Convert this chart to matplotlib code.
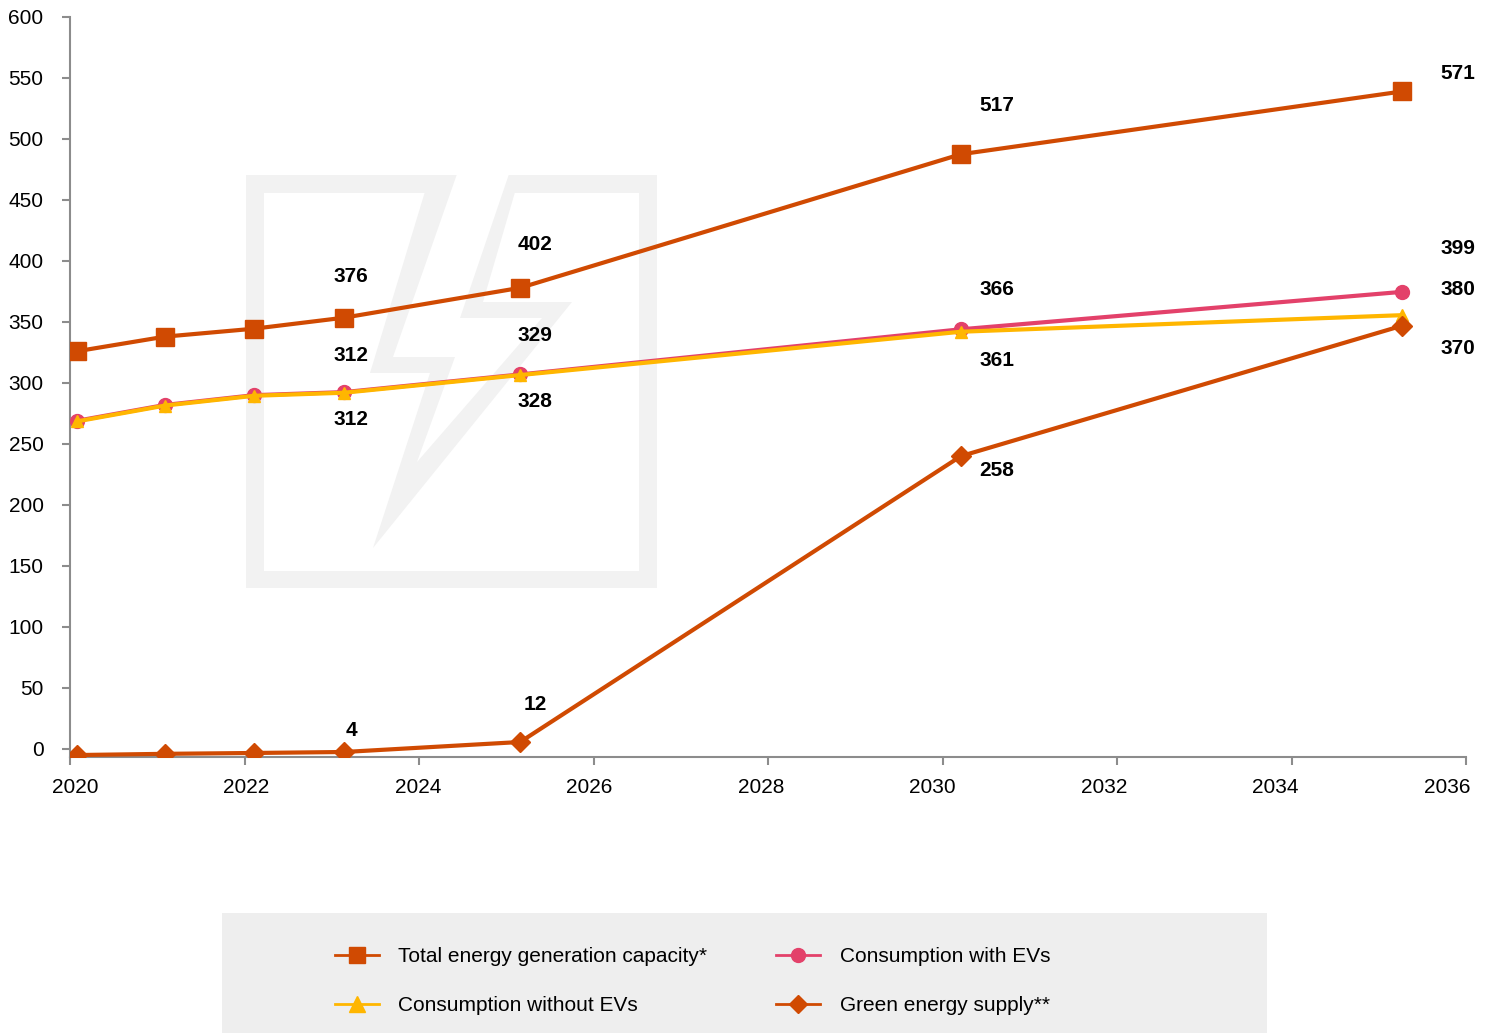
import matplotlib
matplotlib.use('Agg')
import matplotlib.pyplot as plt
from matplotlib.patches import Polygon, Rectangle
from matplotlib.lines import Line2D
from matplotlib.transforms import ScaledTranslation

plt.rcParams['font.family'] = ['Liberation Sans', 'DejaVu Sans']

# points sit a little after the year marks in the original
years = [2020.08, 2021.09, 2022.11, 2023.14, 2025.16, 2030.21, 2035.27]
total_capacity = [326, 338, 344.5, 353.5, 378, 487.5, 539]
cons_with_ev = [269, 282, 290, 292.5, 307, 344, 374.7]
cons_without_ev = [268.5, 281.5, 289.5, 292, 306.5, 342, 355.6]
green_supply = [-5, -4, -3.3, -2.5, 5.7, 240, 347]

# data labels: (index, text, dx px, dy px)
total_labels = [(3, '376', 7, 41), (4, '402', 15, 43), (5, '517', 36, 49), (6, '571', 56, 18)]
ev_labels = [(3, '312', 7, 37), (4, '329', 15, 39), (5, '366', 36, 40), (6, '399', 56, 43)]
noev_labels = [(3, '312', 7, -27), (4, '328', 15, -26), (5, '361', 36, -29), (6, '380', 56, 26)]
green_labels = [(3, '4', 7, 21), (4, '12', 15, 37), (5, '258', 36, -14), (6, '370', 56, -23)]

c_orange = '#D04A02'
c_pink = '#E3416A'
c_yellow = '#FFB600'

W, H = 1493, 1033
fig = plt.figure(figsize=(W / 100, H / 100), dpi=100)
ax = fig.add_axes([70 / W, 1 - 757 / H, (1466 - 70) / W, (757 - 17) / H])


def fpt(pts):
    return [(a / W, 1 - b / H) for a, b in pts]


def deco(pts, color):
    ax.add_patch(Polygon(fpt(pts), closed=True, transform=fig.transFigure, facecolor=color,
                         edgecolor='none', clip_on=False, zorder=0.5))


# watermark frame + lightning bolt
wm = '#f2f2f2'
deco([(246, 175), (657, 175), (657, 588), (246, 588)], wm)
deco([(264, 193), (639, 193), (639, 571), (264, 571)], 'white')
deco([(430, 175), (520, 175), (483, 302), (572, 302), (373, 548), (430, 373), (370, 373)], wm)
deco([(457, 174), (509, 174), (460, 318), (542, 318), (417, 462), (455, 357), (393, 357)], 'white')

lw = 3
ax.plot(years, total_capacity, color=c_orange, lw=lw, marker='s', ms=12.5, zorder=3)
ax.plot(years, cons_with_ev, color=c_pink, lw=lw, marker='o', ms=10, zorder=4)
ax.plot(years, cons_without_ev, color=c_yellow, lw=lw, marker='^', ms=9, zorder=5)
ax.plot(years, green_supply, color=c_orange, lw=lw, marker='D', ms=10, zorder=6)

for series, labels in [(total_capacity, total_labels), (cons_with_ev, ev_labels),
                       (cons_without_ev, noev_labels), (green_supply, green_labels)]:
    for i, txt, dx, dy in labels:
        ax.annotate(txt, (years[i], series[i]), xytext=(dx * 0.72, dy * 0.72),
                    textcoords='offset points', ha='center', va='center',
                    fontsize=15, fontweight='bold', color='black', zorder=7)

ax.set_xlim(2020, 2036)
ax.set_ylim(-6.6, 600)
ax.set_xticks(range(2020, 2037, 2))
ax.set_yticks(range(0, 601, 50))
for s in ['top', 'right']:
    ax.spines[s].set_visible(False)
for s in ['left', 'bottom']:
    ax.spines[s].set_color('#8c8c8c')
    ax.spines[s].set_linewidth(1.5)
ax.tick_params(axis='both', colors='#8c8c8c', length=6, width=1.5, labelcolor='black', labelsize=15)
ax.tick_params(axis='y', pad=13)
ax.tick_params(axis='x', pad=9)

# year labels in the original drift slightly left of their ticks
for k, tick in enumerate(ax.xaxis.get_major_ticks()):
    shift = (5 - 3 * k) / 100
    lab = tick.label1
    lab.set_transform(lab.get_transform() + ScaledTranslation(shift, 0, fig.dpi_scale_trans))

# legend box
ax.add_patch(Rectangle((222 / W, 0), (1267 - 222) / W, 120 / H, transform=fig.transFigure,
                       facecolor='#eeeeee', edgecolor='none', clip_on=False, zorder=0.5))
handles = [
    Line2D([], [], color=c_orange, lw=2, marker='s', ms=12, label='Total energy generation capacity*'),
    Line2D([], [], color=c_yellow, lw=2, marker='^', ms=11, label='Consumption without EVs'),
    Line2D([], [], color=c_pink, lw=2, marker='o', ms=10, label='Consumption with EVs'),
    Line2D([], [], color=c_orange, lw=2, marker='D', ms=9, label='Green energy supply**'),
]
fig.legend(handles=handles, ncol=2, loc='center left', bbox_to_anchor=(316 / W, 1 - 981 / H),
           frameon=False, fontsize=15, handlelength=2.1, handletextpad=0.95,
           columnspacing=3.3, labelspacing=1.45)

fig.savefig('out.png', dpi=100)
